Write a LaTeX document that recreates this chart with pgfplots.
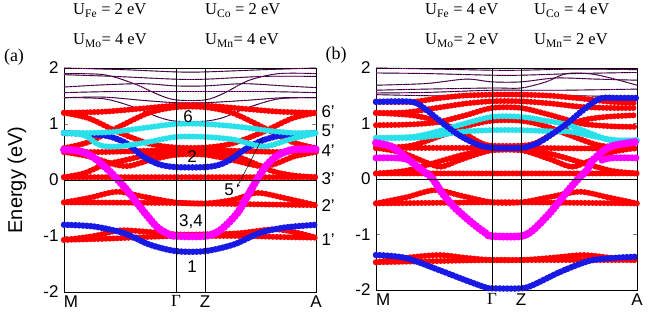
\documentclass[border=0pt]{standalone}
\usepackage{fontspec}
\setmainfont{Liberation Serif}
\setsansfont{Liberation Sans}
\usepackage{pgfplots}
\pgfplotsset{compat=1.18}
\definecolor{bred}{RGB}{255,0,0}
\definecolor{bblue}{RGB}{25,25,230}
\definecolor{bcyan}{RGB}{40,225,235}
\definecolor{bmag}{RGB}{255,0,255}
\pgfplotsset{
  band/.style={smooth, no markers, line cap=round, dash pattern=on 0pt off 3.8pt, line width=6pt},
  kband/.style={smooth, no markers, black, line width=0.9pt, postaction={draw=bmag, line width=0.6pt, dash pattern=on 1pt off 1.6pt}},
  refl/.style={black, line width=0.8pt, no markers},
  myax/.style={anchor=south west, scale only axis, ymin=-2, ymax=2,
    ytick={-2,-1,0,1,2}, yticklabels={-2,-1,0,1,2},
    tick align=inside, major tick length=4pt, x tick style={draw=none},
    tick label style={font=\fontsize{17}{17}\selectfont\sffamily},
    yticklabel style={xshift=-2pt},
    axis line style={line width=0.9pt}, clip=false},
}
\newcommand{\hd}{\fontsize{16.5}{17}\selectfont\rmfamily}
\newcommand{\lb}{\fontsize{17}{17}\selectfont\sffamily}
\begin{document}
\begin{tikzpicture}
\path[use as bounding box] (0,0) rectangle (667pt,314pt);
% ---------------- panel (a) ----------------
\begin{axis}[myax, at={(64pt,22pt)}, width=252pt, height=224pt, xmin=0, xmax=252,
  xtick={0,112,141,252}, xticklabels={\makebox[0pt][l]{M},{\rmfamily Γ},Z,A}]
% black bands
\addplot[kband] coordinates {(0,2.0)(60,1.97)(112,1.93)(141,1.93)(200,1.97)(252,2.0)};
\addplot[kband] coordinates {(0,1.9)(40,1.88)(70,1.72)(95,1.52)(112,1.43)(141,1.43)(160,1.55)(185,1.78)(215,1.9)(252,1.9)};
\addplot[kband] coordinates {(0,1.88)(50,1.85)(112,1.8)(141,1.8)(200,1.85)(252,1.85)};
\addplot[kband] coordinates {(0,1.66)(40,1.7)(80,1.72)(112,1.68)(141,1.68)(180,1.72)(220,1.68)(252,1.65)};
\addplot[kband] coordinates {(0,1.56)(50,1.58)(112,1.58)(141,1.58)(200,1.58)(252,1.56)};
\addplot[kband] coordinates {(0,1.47)(40,1.48)(80,1.42)(112,1.38)(141,1.38)(180,1.42)(220,1.47)(252,1.47)};
\addplot[kband] coordinates {(0,1.47)(40,1.45)(70,1.3)(95,1.12)(112,1.05)(141,1.05)(160,1.12)(185,1.3)(215,1.45)(252,1.47)};
% red bands
\addplot[band, bred] coordinates {(0,1.2)(40,1.22)(80,1.28)(112,1.33)(141,1.33)(175,1.28)(215,1.22)(252,1.2)};
\addplot[band, bred] coordinates {(0,1.2)(25,1.1)(55,0.85)(85,0.65)(112,0.58)(141,0.58)(168,0.65)(198,0.85)(228,1.1)(252,1.2)};
\addplot[band, bred] coordinates {(0,0.57)(25,0.68)(55,0.95)(85,1.2)(112,1.3)(141,1.3)(168,1.2)(198,0.95)(228,0.68)(252,0.57)};
\addplot[band, bred] coordinates {(0,0.5)(40,0.5)(80,0.52)(112,0.53)(141,0.53)(175,0.52)(215,0.5)(252,0.52)};
\addplot[band, bred] coordinates {(0,0.05)(20,0.12)(40,0.27)(60,0.35)(85,0.45)(112,0.5)(141,0.5)(168,0.45)(190,0.3)(210,0.15)(230,0.08)(252,0.05)};
\addplot[band, bred] coordinates {(0,0.5)(25,0.42)(50,0.28)(65,0.25)(85,0.35)(112,0.45)(141,0.45)(170,0.35)(195,0.25)(210,0.28)(230,0.42)(252,0.5)};
\addplot[band, bred] coordinates {(0,0.05)(112,0.05)(141,0.05)(252,0.05)};
\addplot[band, bred] coordinates {(0,-0.4)(112,-0.41)(141,-0.42)(252,-0.45)};
\addplot[band, bred] coordinates {(0,-0.4)(25,-0.32)(53,-0.21)(80,-0.3)(112,-0.4)(141,-0.42)(170,-0.35)(193,-0.23)(220,-0.32)(252,-0.45)};
\addplot[band, bred] coordinates {(0,-1.07)(40,-1.05)(80,-1.02)(112,-1.0)(141,-1.0)(180,-1.0)(220,-1.02)(252,-1.03)};
\addplot[band, bred] coordinates {(0,-1.07)(30,-1.0)(55,-0.9)(80,-0.92)(112,-0.97)(141,-0.97)(175,-0.95)(210,-0.88)(235,-0.95)(252,-1.03)};
% blue
\addplot[band, bblue, line width=6.5pt] coordinates {(0,0.84)(25,0.82)(45,0.78)(63,0.65)(79,0.42)(95,0.28)(112,0.23)(141,0.23)(155,0.27)(166,0.36)(183,0.57)(199,0.71)(219,0.8)(252,0.84)};
\addplot[band, bblue, line width=6.5pt] coordinates {(0,-0.8)(30,-0.83)(60,-0.95)(85,-1.15)(112,-1.27)(141,-1.27)(170,-1.15)(195,-0.95)(220,-0.85)(252,-0.8)};
% cyan
\addplot[band, bcyan] coordinates {(0,0.84)(25,0.84)(50,0.86)(80,0.93)(112,1.0)(141,1.0)(175,0.95)(205,0.88)(230,0.84)(252,0.84)};
\addplot[band, bcyan] coordinates {(0,0.84)(20,0.8)(36,0.62)(55,0.6)(85,0.68)(112,0.77)(141,0.77)(170,0.72)(200,0.6)(225,0.72)(252,0.84)};
% magenta
\addplot[band, bmag, line width=8pt] coordinates {(0,0.54)(15,0.52)(29,0.41)(46,0.15)(63,-0.18)(76,-0.48)(93,-0.84)(105,-0.97)(112,-1.0)(141,-1.0)(156,-0.9)(173,-0.6)(183,-0.3)(199,0.18)(212,0.42)(228,0.54)(252,0.55)};
% reference lines
\addplot[refl] coordinates {(0,0)(252,0)};
\addplot[refl] coordinates {(112,-2)(112,2)};
\addplot[refl] coordinates {(141,-2)(141,2)};
% labels
\node[font=\lb] at (axis cs:124,1.13) {6};
\node[font=\lb] at (axis cs:128,0.41) {2};
\node[font=\lb] at (axis cs:127,-0.75) {3,4};
\node[font=\lb] at (axis cs:128,-1.55) {1};
\node[font=\lb] at (axis cs:165,-0.18) {5};
\draw[-stealth, line width=0.5pt] (axis cs:199,0.77) -- (axis cs:173,-0.13);
\node[font=\lb, anchor=west] at (axis cs:254,1.22) {6'};
\node[font=\lb, anchor=west] at (axis cs:254,0.88) {5'};
\node[font=\lb, anchor=west] at (axis cs:254,0.52) {4'};
\node[font=\lb, anchor=west] at (axis cs:254,0.03) {3'};
\node[font=\lb, anchor=west] at (axis cs:254,-0.45) {2'};
\node[font=\lb, anchor=west] at (axis cs:254,-1.07) {1'};
\end{axis}
% ---------------- panel (b) ----------------
\begin{axis}[myax, at={(376pt,24pt)}, width=261pt, height=222pt, xmin=0, xmax=261,
  xtick={0,116,145,261}, xticklabels={\makebox[0pt][l]{M},{\rmfamily Γ},Z,A}]
\addplot[kband] coordinates {(0,2.0)(60,1.98)(116,1.96)(145,1.96)(200,1.98)(261,1.97)};
\addplot[kband] coordinates {(0,1.91)(50,1.9)(116,1.87)(145,1.87)(200,1.9)(261,1.92)};
\addplot[kband] coordinates {(0,1.69)(50,1.72)(90,1.8)(116,1.75)(145,1.75)(180,1.82)(220,1.8)(261,1.78)};
\addplot[kband] coordinates {(0,1.6)(50,1.62)(116,1.64)(145,1.64)(170,1.75)(191,1.9)(220,1.88)(261,1.69)};
\addplot[kband] coordinates {(0,1.55)(50,1.56)(116,1.6)(145,1.6)(190,1.6)(261,1.62)};
\addplot[kband] coordinates {(0,1.52)(60,1.5)(116,1.52)(145,1.52)(200,1.5)(261,1.48)};
% red
\addplot[band, bred] coordinates {(0,1.39)(36,1.39)(60,1.45)(86,1.5)(116,1.52)(145,1.52)(175,1.5)(205,1.45)(235,1.39)(261,1.37)};
\addplot[band, bred] coordinates {(0,1.19)(30,1.2)(60,1.28)(90,1.36)(116,1.4)(145,1.4)(175,1.36)(205,1.3)(235,1.28)(261,1.28)};
\addplot[band, bred] coordinates {(0,1.19)(35,1.15)(60,1.05)(85,0.85)(105,0.65)(116,0.6)(145,0.6)(160,0.65)(180,0.85)(205,1.05)(230,1.12)(261,1.15)};
\addplot[band, bred] coordinates {(0,0.97)(30,0.98)(60,1.02)(90,1.15)(116,1.28)(145,1.28)(175,1.15)(205,1.0)(235,0.95)(261,0.94)};
\addplot[band, bred] coordinates {(0,0.56)(35,0.6)(65,0.78)(90,0.95)(116,1.05)(145,1.05)(170,0.95)(195,0.78)(225,0.6)(261,0.56)};
\addplot[band, bred] coordinates {(0,0.56)(40,0.56)(116,0.56)(145,0.56)(220,0.55)(261,0.55)};
\addplot[band, bred] coordinates {(0,0.56)(25,0.48)(50,0.3)(65,0.22)(85,0.35)(116,0.52)(145,0.52)(175,0.35)(195,0.22)(210,0.3)(235,0.48)(261,0.56)};
\addplot[band, bred] coordinates {(0,0.1)(116,0.1)(145,0.1)(261,0.1)};
\addplot[band, bred] coordinates {(0,0.1)(30,0.15)(60,0.3)(90,0.45)(116,0.52)(145,0.52)(175,0.45)(205,0.3)(235,0.15)(261,0.1)};
\addplot[band, bred] coordinates {(0,-0.44)(116,-0.42)(145,-0.42)(261,-0.44)};
\addplot[band, bred] coordinates {(0,-0.44)(30,-0.33)(59,-0.2)(85,-0.3)(116,-0.42)(145,-0.42)(175,-0.32)(204,-0.23)(232,-0.33)(261,-0.44)};
\addplot[band, bred] coordinates {(0,-1.5)(116,-1.46)(145,-1.46)(261,-1.46)};
\addplot[band, bred] coordinates {(0,-1.5)(30,-1.42)(63,-1.37)(90,-1.42)(116,-1.46)(145,-1.46)(175,-1.42)(207,-1.37)(235,-1.42)(261,-1.46)};
% cyan
\addplot[band, bcyan] coordinates {(0,0.74)(36,0.76)(60,0.85)(83,0.97)(116,1.12)(145,1.12)(170,1.05)(191,0.98)(215,0.82)(234,0.7)(261,0.7)};
\addplot[band, bcyan] coordinates {(0,0.74)(36,0.74)(60,0.78)(85,0.85)(116,0.88)(145,0.88)(175,0.86)(195,0.85)(220,0.76)(240,0.7)(261,0.7)};
% blue
\addplot[band, bblue, line width=6.5pt] coordinates {(0,1.39)(36,1.39)(50,1.25)(63,1.06)(83,0.79)(103,0.61)(119,0.56)(145,0.56)(155,0.6)(167,0.7)(191,1.0)(207,1.24)(224,1.45)(240,1.46)(261,1.46)};
\addplot[band, bblue, line width=6.5pt] coordinates {(0,-1.37)(29,-1.42)(63,-1.64)(89,-1.82)(109,-1.95)(116,-1.97)(145,-1.97)(157,-1.91)(181,-1.7)(201,-1.55)(217,-1.46)(240,-1.42)(261,-1.4)};
% magenta
\addplot[band, bmag, line width=7pt] coordinates {(0,0.38)(20,0.38)(32,0.35)};
\addplot[band, bmag, line width=7pt] coordinates {(226,0.34)(236,0.38)(261,0.38)};
\addplot[band, bmag, line width=8pt] coordinates {(0,0.65)(16,0.58)(29,0.4)(46,0.16)(56,0.02)(66,-0.25)(79,-0.52)(96,-0.79)(110,-0.98)(116,-1.03)(145,-1.03)(157,-0.92)(174,-0.61)(187,-0.32)(201,-0.02)(211,0.16)(217,0.34)(234,0.58)(261,0.67)};
\addplot[refl] coordinates {(0,0)(261,0)};
\addplot[refl] coordinates {(116,-2)(116,2)};
\addplot[refl] coordinates {(145,-2)(145,2)};
\end{axis}
% ---------------- texts ----------------
\node[rotate=90, font=\fontsize{20}{20}\selectfont\sffamily] at (17pt,134pt) {Energy (eV)};
\node[font=\fontsize{18}{18}\selectfont\rmfamily] at (14pt,257pt) {(a)};
\node[font=\fontsize{18}{18}\selectfont\rmfamily] at (336pt,259pt) {(b)};
\node[font=\hd, anchor=base west, inner sep=0pt] at (73pt,299pt) {U\textsubscript{Fe} = 2 eV};
\node[font=\hd, anchor=base west, inner sep=0pt] at (205pt,299pt) {U\textsubscript{Co} = 2 eV};
\node[font=\hd, anchor=base west, inner sep=0pt] at (73pt,269pt) {U\textsubscript{Mo}= 4 eV};
\node[font=\hd, anchor=base west, inner sep=0pt] at (205pt,269pt) {U\textsubscript{Mn}= 4 eV};
\node[font=\hd, anchor=base west, inner sep=0pt] at (425pt,299pt) {U\textsubscript{Fe} = 4 eV};
\node[font=\hd, anchor=base west, inner sep=0pt] at (534pt,299pt) {U\textsubscript{Co} = 4 eV};
\node[font=\hd, anchor=base west, inner sep=0pt] at (425pt,269pt) {U\textsubscript{Mo}= 2 eV};
\node[font=\hd, anchor=base west, inner sep=0pt] at (534pt,269pt) {U\textsubscript{Mn}= 2 eV};
\end{tikzpicture}
\end{document}
